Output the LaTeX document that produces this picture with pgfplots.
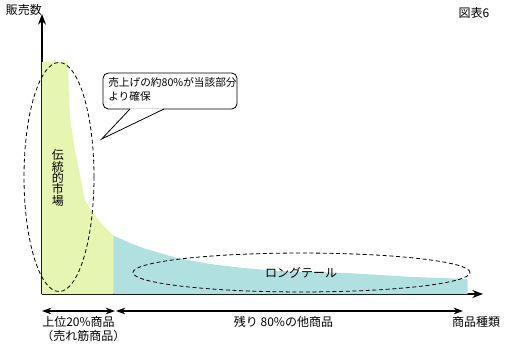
\documentclass[border=0pt]{standalone}
\usepackage{pgfplots}
\pgfplotsset{compat=1.18}
\usepackage{fontspec}
\setmainfont{Noto Sans CJK JP}
\usetikzlibrary{arrows.meta}
\definecolor{lgreen}{HTML}{E6F5B0}
\definecolor{lblue}{HTML}{B0E0E0}
\begin{document}
\begin{tikzpicture}[font=\fontsize{9}{10}\selectfont]
\begin{axis}[
  x=0.75pt, y=0.75pt,
  xmin=0, xmax=441, ymin=0, ymax=280,
  scale only axis,
  axis lines=left,
  axis line style={line width=1pt, -{Stealth[length=8pt,width=6pt]}},
  xtick=\empty, ytick=\empty,
  clip=false,
]
\addplot[fill=lgreen, draw=none] coordinates {
(0,232) (26,232) (27,194) (28,176) (33,144) (38,119) (43,94) (51,81) (58,72) (71.3,58.5)
} \closedcycle;
\addplot[fill=lblue, draw=none] coordinates {
(71.3,58.5) (88,51) (101,46) (118,41) (135,36) (168,30) (201,26) (238,23) (305,21) (371,17) (425.7,15)
} \closedcycle;
% left ellipse
\draw[dash pattern=on 3pt off 2pt, line width=0.6pt] (axis cs:17,117) ellipse [x radius=26.25pt, y radius=85.9pt];
\node[align=center, inner sep=0pt, font=\fontsize{9}{8.6}\selectfont] at (axis cs:16,116) {伝\\統\\的\\市\\場};
% long tail ellipse
\draw[dash pattern=on 3pt off 2pt, line width=0.6pt] (axis cs:259.5,21.5) ellipse [x radius=126.4pt, y radius=14.6pt];
\node at (axis cs:259,21.5) {ロングテール};
% callout
\draw[line width=0.6pt, fill=white, rounded corners=4pt] (axis cs:61,185) rectangle (axis cs:195,221);
\fill[white] (axis cs:88,185.6) -- (axis cs:59.7,155) -- (axis cs:122,185.6) -- cycle;
\draw[line width=0.6pt] (axis cs:88,185) -- (axis cs:59.7,155) -- (axis cs:122,185);
\node[anchor=north west, align=left, inner sep=0pt, font=\fontsize{8}{10.5}\selectfont] at (axis cs:66,217) {売上げの約80\%が当該部分\\より確保};
% labels
\node at (axis cs:432,281) {図表6};
\node at (axis cs:-18,284) {販売数};
% bottom arrows
\draw[line width=0.8pt, {Stealth[length=7pt,width=5pt]}-{Stealth[length=7pt,width=5pt]}] (axis cs:0,-17) -- (axis cs:73,-17);
\draw[line width=0.8pt, {Stealth[length=7pt,width=5pt]}-{Stealth[length=7pt,width=5pt]}] (axis cs:74,-17) -- (axis cs:421,-17);
\node[anchor=west, inner sep=0pt] at (axis cs:0,-28) {上位20\%商品};
\node[anchor=west, inner sep=0pt] at (axis cs:-1,-42) {（売れ筋商品）};
\node at (axis cs:241.5,-28) {残り 80\%の他商品};
\node at (axis cs:434,-28) {商品種類};
\end{axis}
\pgfresetboundingbox
\path[use as bounding box] (-31.5pt,-44.25pt) rectangle (348pt,220.5pt);
\end{tikzpicture}
\end{document}
